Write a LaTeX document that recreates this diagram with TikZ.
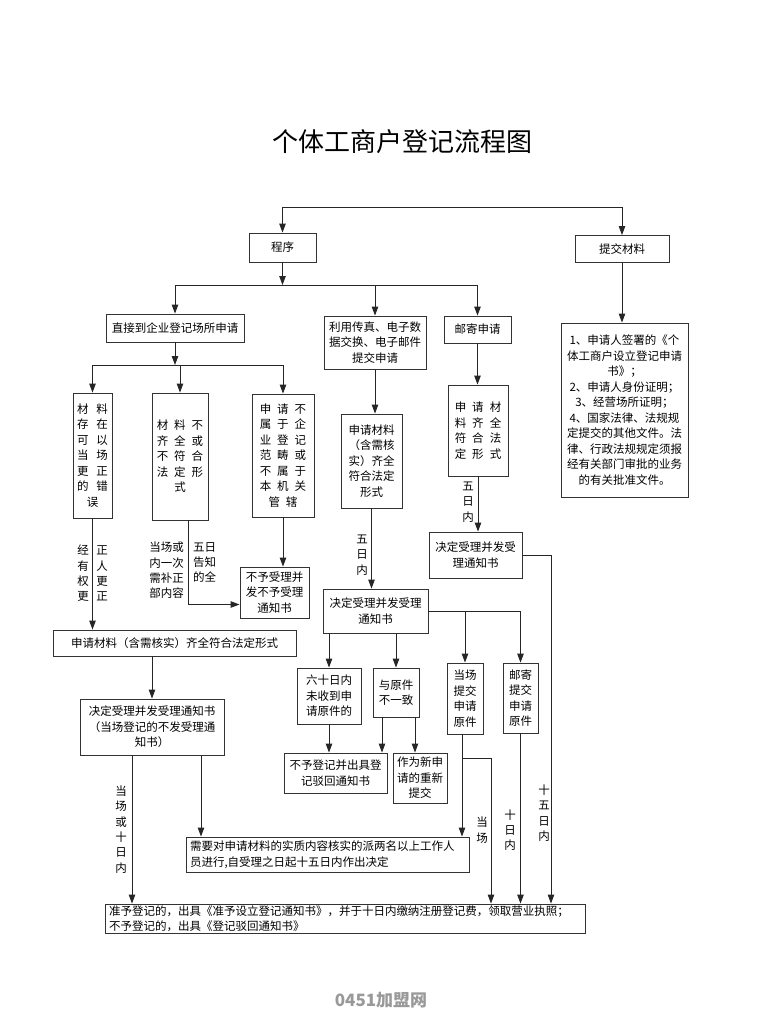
\documentclass[tikz,border=0pt]{standalone}
\usepackage{fontspec}
\setmainfont{Noto Sans CJK SC}
\usetikzlibrary{arrows.meta}
\newcommand\chsp[1][6pt]{\hspace{#1}}
\tikzset{
	box/.style={draw=black!80,line width=0.9pt,inner sep=2pt,align=center,font=\fontsize{11.5}{15.5}\selectfont},
	wbox/.style={box,align=left,inner xsep=4pt,inner ysep=1pt},
	lbl/.style={inner sep=0pt,align=center,font=\fontsize{11.5}{15.3}\selectfont},
	conn/.style={line width=0.9pt,draw=black!85},
	arr/.style={conn,->},
	>={Stealth[inset=0pt,length=9pt,width=6.5pt]},
}
\begin{document}
\begin{tikzpicture}[x=1pt,y=-1pt]
\useasboundingbox (0,0) rectangle (763,1020);

\node (title) at (402,142) [font=\fontsize{26}{30}\selectfont] {个体工商户登记流程图};

\node (cx) at (282.5,247.5) [box,minimum width=67,minimum height=29] {程序};
\node (tjcl) at (622,249) [box,minimum width=94,minimum height=27] {提交材料};
\node (zj) at (175,328) [box,minimum width=138,minimum height=28] {直接到企业登记场所申请};
\node (cz) at (375,342.5) [box,minimum width=102,minimum height=53] {利用传真、电子数\\据交换、电子邮件\\提交申请};
\node (yj) at (477.5,329.5) [box,minimum width=67,minimum height=27] {邮寄申请};
\node (clqd) at (624.5,410) [box,minimum width=127,minimum height=174] {1、申请人签署的《个\\体工商户设立登记申请\\书》；\\2、申请人身份证明；\\3、经营场所证明；\\4、国家法律、法规规\\定提交的其他文件。法\\律、行政法规规定须报\\经有关部门审批的业务\\的有关批准文件。};

\node (ga) at (92.5,455.5) [box,minimum width=39,minimum height=125] {材\chsp[8pt]料\\存\chsp[8pt]在\\可\chsp[8pt]以\\当\chsp[8pt]场\\更\chsp[8pt]正\\的\chsp[8pt]错\\误};
\node (gb) at (180,456.5) [box,minimum width=56,minimum height=127] {材\chsp 料\chsp 不\\齐\chsp 全\chsp 或\\不\chsp 符\chsp 合\\法\chsp 定\chsp 形\\式};
\node (gc) at (283,455.5) [box,minimum width=62,minimum height=123] {申\chsp 请\chsp 不\\属\chsp 于\chsp 企\\业\chsp 登\chsp 记\\范\chsp 畴\chsp 或\\不\chsp 属\chsp 于\\本\chsp 机\chsp 关\\管\chsp 辖};
\node (bsl) at (274.5,592.5) [box,minimum width=69,minimum height=51] {不予受理并\\发不予受理\\通知书};
\node (qq1) at (174.5,643) [box,minimum width=243,minimum height=26] {申请材料（含需核实）齐全符合法定形式};
\node (jd1) at (152,727) [box,minimum width=144,minimum height=56] {决定受理并发受理通知书\\（当场登记的不发受理通\\知书）};

\node (cq2) at (371.5,461) [box,minimum width=61,minimum height=94] {申请材料\\（含需核\\实）齐全\\符合法定\\形式};
\node (jd2) at (375.5,611) [box,minimum width=105,minimum height=44] {决定受理并发受理\\通知书};
\node (ls) at (329,696) [box,minimum width=64,minimum height=56] {六十日内\\未收到申\\请原件的};
\node (yy) at (396,692.5) [box,minimum width=46,minimum height=49] {与原件\\不一致};
\node (dc) at (465,698.5) [box,minimum width=36,minimum height=71] {当场\\提交\\申请\\原件};
\node (yjtj) at (520.5,698) [box,minimum width=35,minimum height=70] {邮寄\\提交\\申请\\原件};
\node (bdj) at (335.5,773) [box,minimum width=103,minimum height=40] {不予登记并出具登\\记驳回通知书};
\node (zw) at (420,778) [box,minimum width=54,minimum height=50] {作为新申\\请的重新\\提交};

\node (yc) at (478,430.5) [box,minimum width=60,minimum height=91] {申\chsp 请\chsp 材\\料\chsp 齐\chsp 全\\符\chsp 合\chsp 法\\定\chsp 形\chsp 式};
\node (jd3) at (475.5,555) [box,minimum width=93,minimum height=46] {决定受理并发受\\理通知书};

\node (xy) at (327.5,854.5) [wbox,text width=275,minimum height=35] {需要对申请材料的实质内容核实的派两名以上工作人\\员进行,自受理之日起十五日内作出决定};
\node (zz) at (345,918.5) [wbox,text width=472,minimum height=29] {准予登记的，出具《准予设立登记通知书》，并于十日内缴纳注册登记费，领取营业执照；\\不予登记的，出具《登记驳回通知书》};

\node (jy1) at (83,573.5) [lbl] {经\\有\\权\\更};
\node (jy2) at (102,573.5) [lbl] {正\\人\\更\\正};
\node (gz1) at (184,542) [lbl,anchor=north east,align=right] {当场或\\内一次\\需补正\\部内容};
\node (gz2) at (193,542) [lbl,anchor=north west,align=left] {五日\\告知\\的全};
\node (wr1) at (362,555) [lbl] {五\\日\\内};
\node (wr2) at (468,502) [lbl] {五\\日\\内};
\node (dcs) at (121,829.5) [lbl] {当\\场\\或\\十\\日\\内};
\node (dc2) at (482,830) [lbl] {当\\场};
\node (sr) at (510,830) [lbl] {十\\日\\内};
\node (swr) at (544,813) [lbl] {十\\五\\日\\内};

\node (wm) at (381,1000) [text=black!40,font=\fontsize{17}{17}\bfseries\selectfont] {0451加盟网};

\coordinate (l0) at (0,207);
\coordinate (l1) at (0,285);
\coordinate (l2) at (0,365);
\coordinate (rj) at (551,0);
\coordinate (rd) at (491,758);

\draw[conn] (l0 -| cx) -- (l0 -| tjcl);
\foreach \n in {cx,tjcl}
  \draw[arr] (l0 -| \n) -- (\n.north);
\draw[arr] (tjcl.south) -- (tjcl.south |- clqd.north);
\draw[arr] (cx.south) -- (l1 -| cx);
\draw[conn] (l1 -| zj) -- (l1 -| yj);
\foreach \n in {zj,cz,yj}
  \draw[arr] (l1 -| \n) -- (\n.north);

\draw[arr] (zj.south) -- (l2 -| zj);
\draw[conn] (l2 -| ga) -- (l2 -| gc);
\foreach \n in {ga,gb,gc}
  \draw[arr] (l2 -| \n) -- (\n.north);
\draw[arr] (ga.south) -- (ga.south |- qq1.north);
\draw[arr] ([xshift=8pt]gb.south) |- ([yshift=-12pt]bsl.west);
\draw[arr] (gc.south) -- (gc.south |- bsl.north);
\draw[arr] (qq1.south -| jd1) -- (jd1.north);
\draw[arr] ([xshift=-20pt]jd1.south) -- ([xshift=-20pt]jd1.south |- zz.north);
\draw[arr] ([xshift=49pt]jd1.south) -- ([xshift=49pt]jd1.south |- xy.north);

\draw[arr] (cz.south) -- (cz.south |- cq2.north);
\draw[arr] (cq2.south) -- (cq2.south |- jd2.north);
\foreach \n in {ls,yy}
  \draw[arr] (jd2.south -| \n) -- (\n.north);
\draw[conn] (jd2.east) -- (jd2.east -| yjtj);
\foreach \n in {dc,yjtj}
  \draw[arr] (jd2.east -| \n) -- (\n.north);
\draw[arr] (ls.south) -- (ls.south |- bdj.north);
\draw[arr] ([xshift=-14pt]yy.south) -- ([xshift=-14pt]yy.south |- bdj.north);
\draw[arr] ([xshift=19pt]yy.south) -- ([xshift=19pt]yy.south |- zw.north);
\draw[arr] ([xshift=-3pt]dc.south) -- ([xshift=-3pt]dc.south |- xy.north);
\draw[conn] ([xshift=-3pt]dc.south |- rd) -- (rd);
\draw[arr] (rd) -- (rd |- zz.north);
\draw[arr] (yjtj.south) -- (yjtj.south |- zz.north);

\draw[arr] (yj.south) -- (yj.south |- yc.north);
\draw[arr] (yc.south) -- (yc.south |- jd3.north);
\draw[arr] (jd3.east) -| (rj |- zz.north);
\end{tikzpicture}
\end{document}
